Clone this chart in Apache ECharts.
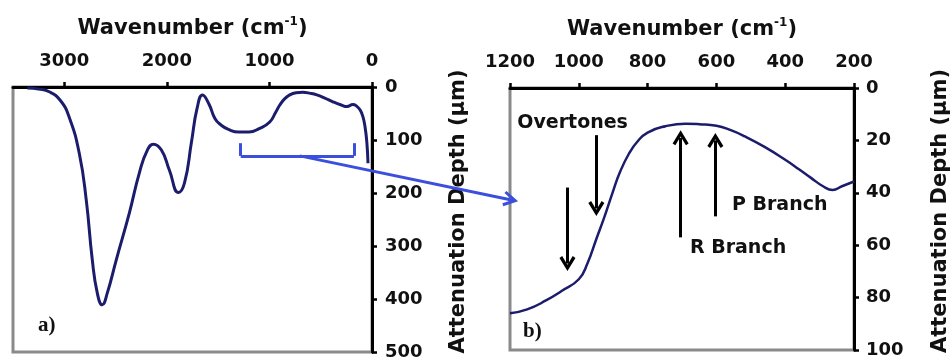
<!DOCTYPE html>
<html>
<head>
<meta charset="utf-8">
<script src="https://cdn.jsdelivr.net/npm/echarts@6/dist/echarts.min.js"></script>
<style>
  html, body { margin: 0; padding: 0; background: #ffffff; }
  #chart { width: 952px; height: 363px; }
</style>
</head>
<body>
<div id="chart"></div>
<script>
// Full spectrum: [wavenumber (cm-1), attenuation depth (μm)]
const fullSpectrum = [
  [3360, 2], [3250, 4], [3147, 9], [3040, 25], [2952, 57], [2854, 125], [2786, 213],
  [2727, 326], [2678, 389], [2630, 411], [2581, 389], [2493, 326], [2366, 238],
  [2268, 162], [2190, 119], [2131, 108], [2053, 119], [1975, 157], [1887, 199],
  [1828, 181], [1760, 104], [1705, 40], [1652, 15], [1590, 32], [1530, 60],
  [1470, 72], [1400, 80], [1300, 85], [1200, 85], [1095, 78], [997, 66], [940, 48],
  [899, 34], [850, 22], [802, 15], [740, 11], [674, 10], [600, 12], [538, 15],
  [460, 21], [381, 28], [300, 34], [244, 37], [186, 33], [150, 36], [117, 43],
  [90, 55], [68, 75], [50, 105], [39, 144]
];

// Zoomed region 1200–200 cm-1
const zoomSpectrum = [
  [1200, 86], [1150, 84.5], [1094, 81], [1050, 77.5], [1000, 73], [975, 67],
  [950, 58], [925, 49], [902, 40], [880, 32], [854, 25], [830, 20.5], [800, 17],
  [748, 14.6], [690, 13.6], [650, 13.8], [600, 14.4], [560, 16], [517, 18.5],
  [460, 22.5], [400, 27.4], [360, 31], [325, 34.3], [290, 37.5], [262, 38.9],
  [235, 37.5], [200, 35.7]
];

// Axis ticks
const fullWavenumberTicks = [0, 1000, 2000, 3000];

// Bracket marking the zoomed range on the full spectrum
const bracketRange = [1280, 176];
const bracketDepths = [106, 130];
const connectorStart = [704, 130];   // on the bracket (full-spectrum axes)
const connectorEnd = [1185, 43];     // tip (zoomed axes)

// Annotation arrows in the zoomed panel: [wavenumber, fromDepth, toDepth]
const overtoneArrows = [[1033, 38, 67], [949, 18, 46]];
const branchArrows = [[704, 57, 19], [603, 49, 20]];

// Annotation labels: [text, wavenumber, depth]
const annotations = [
  ['Overtones', 1018, 13.4],
  ['R Branch', 537, 61],
  ['P Branch', 416, 44.7]
];

const FONT = 'DejaVu Sans';
const NAVY = '#1c1c6c';
const BLUE = '#3b4fdc';
const GRAY = '#8a8a8a';
// Open chevron arrowhead, pointing up in its own frame
const CHEVRON = 'path://M5,0 L10,8.4 L8.3,9.6 L5,4 L1.7,9.6 L0,8.4 Z';

const tickLabelStyle = {
  fontFamily: FONT, fontWeight: 'bold', fontSize: 18, color: '#111',
  formatter: v => String(v)
};

function xName() {
  return {
    name: '{t|Wavenumber (cm}{s|-1}{t|)}',
    nameLocation: 'middle',
    nameGap: 45,
    nameTextStyle: {
      rich: {
        t: { fontFamily: FONT, fontWeight: 'bold', fontSize: 21, color: '#111', lineHeight: 26 },
        s: { fontFamily: FONT, fontWeight: 'bold', fontSize: 12, color: '#111', verticalAlign: 'top', lineHeight: 26 }
      }
    }
  };
}

function yName() {
  return {
    name: 'Attenuation Depth (μm)',
    nameLocation: 'middle',
    nameRotate: 90,
    nameGap: 76,
    nameTextStyle: { fontFamily: FONT, fontWeight: 'bold', fontSize: 21, color: '#111', padding: [0, 0, 0, 16] }
  };
}

const axisLineStyle = { show: true, onZero: false, lineStyle: { color: '#000', width: 3 } };
const axisTickStyle = { show: true, inside: false, length: 5, lineStyle: { color: '#000', width: 2.5 } };

const chart = echarts.init(document.getElementById('chart'), null, { renderer: 'canvas' });

const option = {
  backgroundColor: '#ffffff',
  animation: false,
  grid: [
    { left: 13, top: 87, width: 359, height: 265, show: true, borderColor: GRAY, borderWidth: 3, backgroundColor: '#fff' },
    { left: 510, top: 88, width: 347, height: 262, show: true, borderColor: GRAY, borderWidth: 3, backgroundColor: '#fff' }
  ],
  title: [
    { text: 'a)', left: 33, top: 310, textStyle: { fontFamily: 'Liberation Serif', fontWeight: 'bold', fontSize: 21, color: '#111' } },
    { text: 'b)', left: 518, top: 316, textStyle: { fontFamily: 'Liberation Serif', fontWeight: 'bold', fontSize: 21, color: '#111' } }
  ],
  xAxis: [
    Object.assign({
      type: 'value', gridIndex: 0, position: 'top', inverse: true, min: 0, max: 3500,
      axisLine: axisLineStyle,
      axisTick: Object.assign({ customValues: fullWavenumberTicks }, axisTickStyle),
      axisLabel: Object.assign({ customValues: fullWavenumberTicks, margin: 17 }, tickLabelStyle),
      splitLine: { show: false }
    }, xName()),
    Object.assign({
      type: 'value', gridIndex: 1, position: 'top', inverse: true, min: 200, max: 1200, interval: 200,
      axisLine: axisLineStyle,
      axisTick: axisTickStyle,
      axisLabel: Object.assign({ margin: 17 }, tickLabelStyle),
      splitLine: { show: false }
    }, xName())
  ],
  yAxis: [
    Object.assign({
      type: 'value', gridIndex: 0, position: 'right', inverse: true, min: 0, max: 500, interval: 100,
      axisLine: axisLineStyle,
      axisTick: axisTickStyle,
      axisLabel: Object.assign({ margin: 13 }, tickLabelStyle),
      splitLine: { show: false }
    }, yName()),
    Object.assign({
      type: 'value', gridIndex: 1, position: 'right', inverse: true, min: 0, max: 100, interval: 20,
      axisLine: axisLineStyle,
      axisTick: axisTickStyle,
      axisLabel: Object.assign({ margin: 12 }, tickLabelStyle),
      splitLine: { show: false }
    }, yName())
  ],
  series: [
    {
      type: 'line', xAxisIndex: 0, yAxisIndex: 0, data: fullSpectrum,
      smooth: 0.5, showSymbol: false, silent: true,
      lineStyle: { color: NAVY, width: 3 },
      markLine: {
        silent: true, symbol: ['none', 'none'], label: { show: false },
        lineStyle: { color: BLUE, width: 3, type: 'solid' },
        data: [
          [{ coord: [bracketRange[0], bracketDepths[1]] }, { coord: [bracketRange[1], bracketDepths[1]] }],
          [{ coord: [bracketRange[0], bracketDepths[0]] }, { coord: [bracketRange[0], bracketDepths[1]] }],
          [{ coord: [bracketRange[1], bracketDepths[0]] }, { coord: [bracketRange[1], bracketDepths[1]] }]
        ]
      }
    },
    {
      type: 'line', xAxisIndex: 1, yAxisIndex: 1, data: zoomSpectrum,
      smooth: 0.5, showSymbol: false, silent: true,
      lineStyle: { color: NAVY, width: 2.5 },
      markLine: {
        silent: true, symbol: ['none', CHEVRON], symbolSize: [16, 15], label: { show: false },
        lineStyle: { color: '#000', width: 3, type: 'solid' },
        itemStyle: { color: '#000' },
        data: overtoneArrows.concat(branchArrows).map(a => [{ coord: [a[0], a[1]] }, { coord: [a[0], a[2]] }])
      },
      markPoint: {
        silent: true, symbol: 'circle', symbolSize: 0,
        label: { show: true, position: 'inside', fontFamily: FONT, fontWeight: 'bold', fontSize: 19, color: '#111' },
        data: annotations.map(a => ({ coord: [a[1], a[2]], value: a[0], label: { formatter: a[0] } }))
      }
    }
  ]
};

chart.setOption(option);

// Connector arrow from the bracket to the zoomed panel, placed through the axis scales
const p0 = chart.convertToPixel({ xAxisIndex: 0, yAxisIndex: 0 }, connectorStart);
const p1 = chart.convertToPixel({ xAxisIndex: 1, yAxisIndex: 1 }, connectorEnd);
const ang = Math.atan2(p1[1] - p0[1], p1[0] - p0[0]);
const headLen = 13, headAng = Math.PI / 6;
const h1 = [p1[0] - headLen * Math.cos(ang - headAng), p1[1] - headLen * Math.sin(ang - headAng)];
const h2 = [p1[0] - headLen * Math.cos(ang + headAng), p1[1] - headLen * Math.sin(ang + headAng)];

chart.setOption({
  graphic: [
    { type: 'line', z: 100, shape: { x1: p0[0], y1: p0[1], x2: p1[0], y2: p1[1] }, style: { stroke: BLUE, lineWidth: 3 } },
    { type: 'polyline', z: 100, shape: { points: [h1, p1, h2] }, style: { stroke: BLUE, lineWidth: 3, fill: null } }
  ]
});
</script>
</body>
</html>
